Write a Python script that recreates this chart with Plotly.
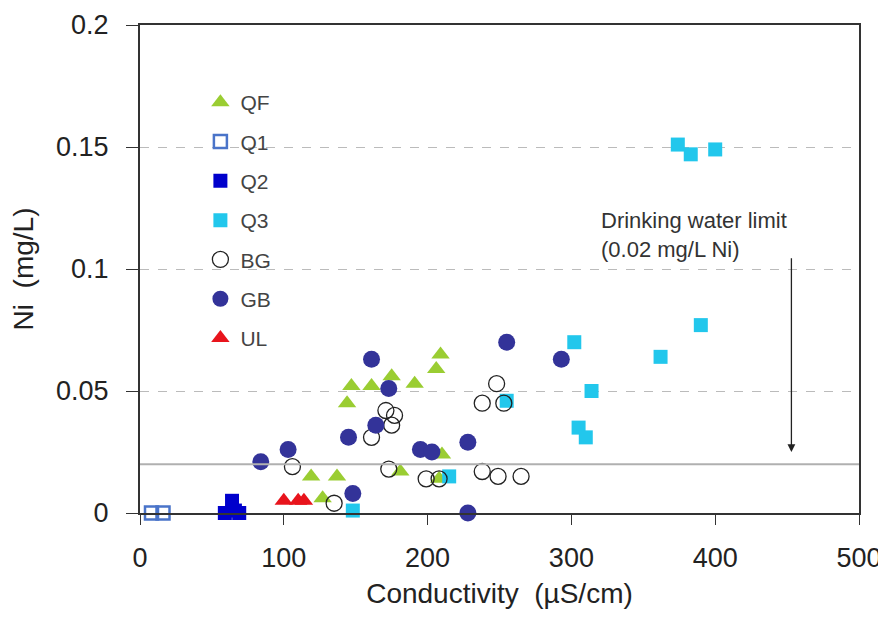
import plotly.graph_objects as go

# ---- data ----
qf_x = [119, 127, 137, 144, 147, 161, 175, 181, 191, 206, 209, 210, 208]
qf_y = [0.015, 0.006, 0.015, 0.045, 0.052, 0.052, 0.056, 0.017, 0.053, 0.059, 0.065, 0.024, 0.014]

q1_x = [8, 16]
q1_y = [0.0, 0.0]

q2_x = [59, 64, 69, 66]
q2_y = [0.0, 0.005, 0.0, 0.001]

q3_x = [148, 215, 255, 302, 305, 310, 314, 362, 390, 374, 383, 400]
q3_y = [0.001, 0.015, 0.046, 0.070, 0.035, 0.031, 0.050, 0.064, 0.077, 0.151, 0.147, 0.149]

bg_x = [106, 135, 161, 171, 175, 177, 173, 199, 208, 238, 238, 248, 253, 249, 265]
bg_y = [0.019, 0.004, 0.031, 0.042, 0.036, 0.040, 0.018, 0.014, 0.014, 0.045, 0.017, 0.053, 0.045, 0.015, 0.015]

gb_x = [84, 103, 145, 148, 161, 164, 173, 195, 203, 228, 228, 255, 293]
gb_y = [0.021, 0.026, 0.031, 0.008, 0.063, 0.036, 0.051, 0.026, 0.025, 0.029, 0.0, 0.070, 0.063]

ul_x = [100, 110, 114]
ul_y = [0.005, 0.005, 0.005]

limit_value = 0.02
x_ticks = [0, 100, 200, 300, 400, 500]
y_ticks = [0, 0.05, 0.1, 0.15, 0.2]
y_tick_labels = ["0", "0.05", "0.1", "0.15", "0.2"]

fig = go.Figure()

series = [
    ("QF", qf_x, qf_y, dict(symbol="triangle-up", color="#9ACD32", size=16)),
    ("Q1", q1_x, q1_y, dict(symbol="square-open", color="#4a74c9", size=13, line=dict(width=2.5))),
    ("Q2", q2_x, q2_y, dict(symbol="square", color="#0000CC", size=14)),
    ("Q3", q3_x, q3_y, dict(symbol="square", color="#22C7EC", size=14)),
    ("BG", bg_x, bg_y, dict(symbol="circle-open", color="#222222", size=16, line=dict(width=1.3))),
    ("GB", gb_x, gb_y, dict(symbol="circle", color="#333399", size=17)),
    ("UL", ul_x, ul_y, dict(symbol="triangle-up", color="#E8141C", size=16)),
]

for name, xs, ys, mk in series:
    fig.add_trace(go.Scatter(
        x=xs, y=ys, mode="markers", name=name, marker=mk,
        cliponaxis=False, legendgroup=name,
    ))

# drinking water limit line
fig.add_shape(type="line", xref="paper", x0=0, x1=1, yref="y",
              y0=limit_value, y1=limit_value,
              line=dict(color="#b0b0b0", width=2))

# annotation text and arrow
fig.add_annotation(x=319, y=0.114, xref="x", yref="y", xanchor="left",
                   text="Drinking water limit<br>(0.02 mg/L Ni)",
                   showarrow=False, align="left",
                   font=dict(family="Liberation Sans, Arial", size=22, color="#333333"))
fig.add_annotation(x=453, y=0.025, ax=453, ay=0.105, xref="x", yref="y",
                   axref="x", ayref="y", text="", showarrow=True,
                   arrowhead=2, arrowsize=1.2, arrowwidth=1.3, arrowcolor="#222222")

font_tick = dict(family="Liberation Sans, Arial", size=27, color="#222222")
font_title = dict(family="Liberation Sans, Arial", size=28, color="#222222")

fig.update_layout(
    width=878, height=602,
    margin=dict(l=132, r=27, t=17, b=97),
    paper_bgcolor="white", plot_bgcolor="white",
    font=font_tick,
    showlegend=True,
    legend=dict(x=0.084, y=0.883, xanchor="left", yanchor="top",
                font=dict(family="Liberation Sans, Arial", size=21, color="#444444"),
                tracegroupgap=9, bgcolor="rgba(0,0,0,0)", itemsizing="trace"),
    xaxis=dict(range=[0, 500], tickvals=x_ticks, ticks="outside", ticklen=10,
               tickcolor="#333333", ticklabelstandoff=10, showgrid=False, zeroline=False,
               showline=True, linecolor="#333333", linewidth=2, mirror=True,
               automargin=False, ticklabeloverflow="allow",
               title=dict(text="Conductivity  (µS/cm)", font=font_title, standoff=11),
               tickfont=font_tick),
    yaxis=dict(range=[0, 0.2], tickvals=y_ticks, ticktext=y_tick_labels,
               ticks="outside", ticklen=12, tickcolor="#333333", ticklabelstandoff=12,
               showgrid=True, gridcolor="#bbbbbb", griddash="dash", gridwidth=1,
               zeroline=False, showline=True, linecolor="#333333", linewidth=2,
               mirror=True, automargin=False,
               title=dict(text="Ni  (mg/L)", font=font_title, standoff=14),
               tickfont=font_tick),
)

fig.write_html("out.html")
